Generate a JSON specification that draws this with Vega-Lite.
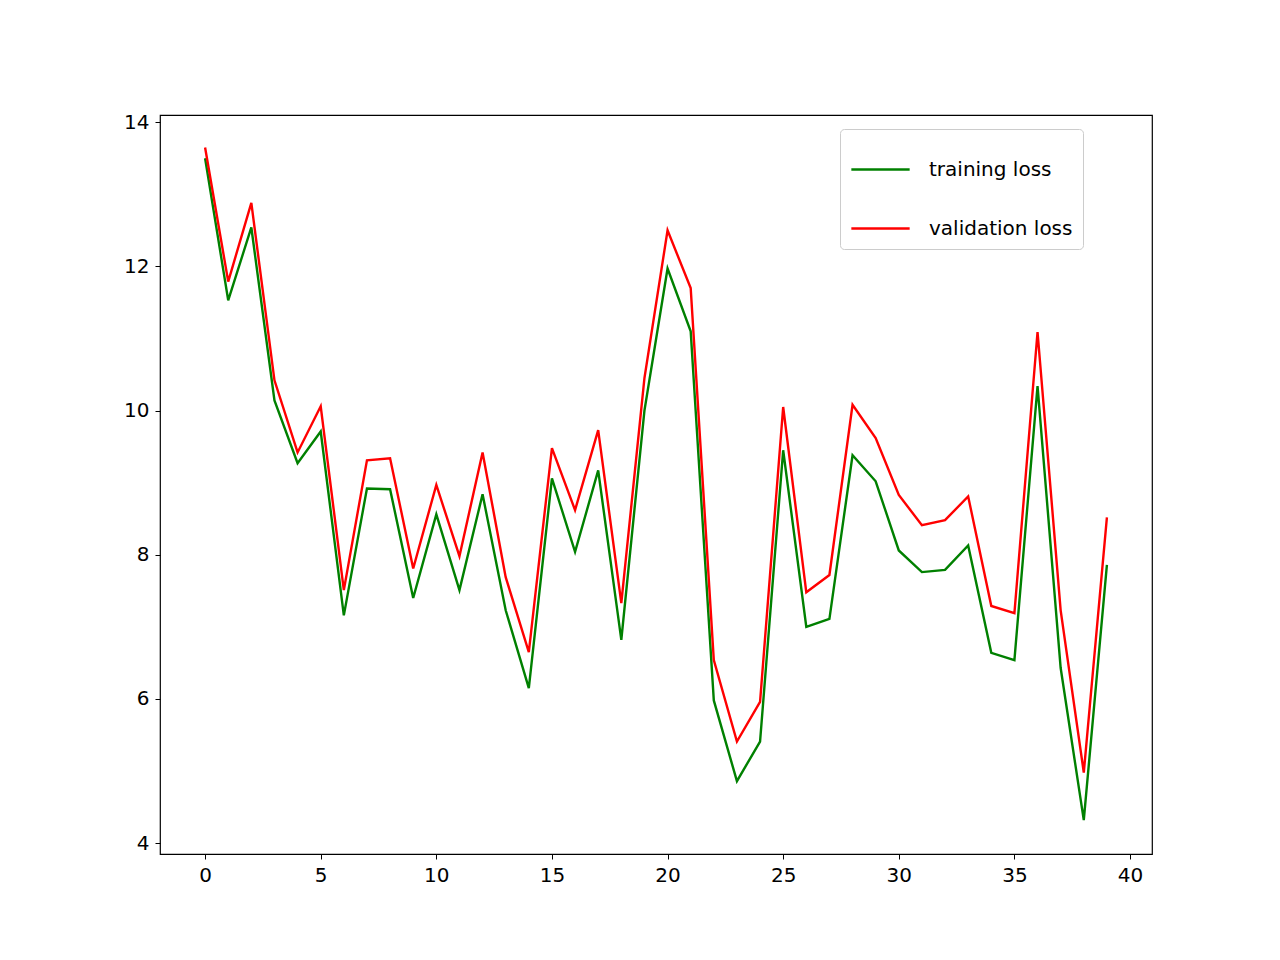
{
"$schema":"https://vega.github.io/schema/vega-lite/v6.json",
"width":992,"height":739,"autosize":"none",
"padding":{"left":160,"top":115,"right":128,"bottom":106},
"background":"white",
"config":{"font":"DejaVu Sans","view":{"stroke":"black","strokeWidth":1.2}},
"data":{"values":[
{"e":0,"t":13.50,"v":13.65},{"e":1,"t":11.53,"v":11.79},{"e":2,"t":12.54,"v":12.88},{"e":3,"t":10.14,"v":10.42},{"e":4,"t":9.27,"v":9.42},
{"e":5,"t":9.71,"v":10.06},{"e":6,"t":7.16,"v":7.51},{"e":7,"t":8.92,"v":9.31},{"e":8,"t":8.91,"v":9.34},{"e":9,"t":7.40,"v":7.81},
{"e":10,"t":8.56,"v":8.97},{"e":11,"t":7.51,"v":7.98},{"e":12,"t":8.84,"v":9.42},{"e":13,"t":7.23,"v":7.69},{"e":14,"t":6.15,"v":6.65},
{"e":15,"t":9.06,"v":9.48},{"e":16,"t":8.04,"v":8.62},{"e":17,"t":9.17,"v":9.73},{"e":18,"t":6.82,"v":7.33},{"e":19,"t":10.0,"v":10.45},
{"e":20,"t":11.97,"v":12.5},{"e":21,"t":11.1,"v":11.7},{"e":22,"t":5.98,"v":6.54},{"e":23,"t":4.86,"v":5.41},{"e":24,"t":5.41,"v":5.96},
{"e":25,"t":9.45,"v":10.05},{"e":26,"t":7.0,"v":7.48},{"e":27,"t":7.11,"v":7.72},{"e":28,"t":9.38,"v":10.08},{"e":29,"t":9.02,"v":9.62},
{"e":30,"t":8.06,"v":8.83},{"e":31,"t":7.76,"v":8.41},{"e":32,"t":7.79,"v":8.48},{"e":33,"t":8.13,"v":8.81},{"e":34,"t":6.64,"v":7.29},
{"e":35,"t":6.54,"v":7.19},{"e":36,"t":10.34,"v":11.09},{"e":37,"t":6.43,"v":7.23},{"e":38,"t":4.32,"v":4.98},{"e":39,"t":7.86,"v":8.52}
]},
"transform":[{"fold":["t","v"],"as":["k","loss"]},
{"calculate":"datum.k=='t'?'training loss':'validation loss'","as":"series"}],
"mark":{"type":"line","strokeWidth":2.4},
"encoding":{
"x":{"field":"e","type":"quantitative","scale":{"domain":[-1.95,40.95],"nice":false,"zero":false},
"axis":{"values":[0,5,10,15,20,25,30,35,40],"title":null,"grid":false,"labelFontSize":20,"labelColor":"black","tickColor":"black","domain":false,"tickSize":5,"labelPadding":6}},
"y":{"field":"loss","type":"quantitative","scale":{"domain":[3.85,14.1],"nice":false,"zero":false},
"axis":{"values":[4,6,8,10,12,14],"title":null,"grid":false,"labelFontSize":20,"labelColor":"black","tickColor":"black","domain":false,"tickSize":5,"labelPadding":6}},
"color":{"field":"series","type":"nominal","scale":{"domain":["training loss","validation loss"],"range":["green","red"]},
"legend":{"title":null,"orient":"none","legendX":680,"legendY":14,"fillColor":"white","strokeColor":"#cccccc","cornerRadius":4,"padding":10,"labelFontSize":20,"labelColor":"black","symbolType":"stroke","symbolSize":3400,"symbolStrokeWidth":2.6,"rowPadding":18,"labelOffset":18}}
}
}
